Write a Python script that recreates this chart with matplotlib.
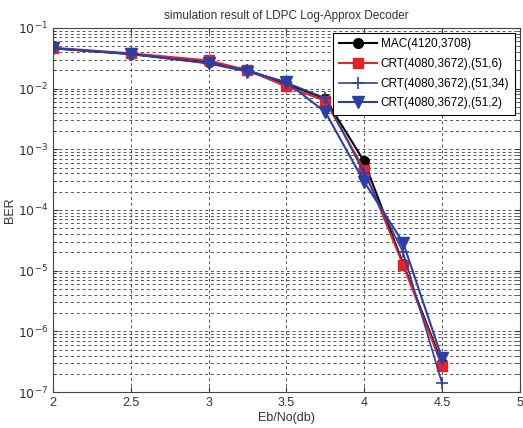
import matplotlib
matplotlib.use("Agg")
import matplotlib.pyplot as plt
import numpy as np
from matplotlib.ticker import FixedLocator, NullFormatter

plt.rcParams['font.family'] = ['Liberation Sans', 'DejaVu Sans']

# Eb/No (dB) points
ebno = [2.0, 2.5, 3.0, 3.25, 3.5, 3.75, 4.0, 4.25, 4.5]

# BER
ber_mac = [0.046, 0.037, 0.027, 0.020, 0.0120, 0.0068, 6.3e-4, 1.3e-5, 3.0e-7]
ber_crt6 = [0.047, 0.038, 0.029, 0.020, 0.0108, 0.0063, 4.6e-4, 1.25e-5, 2.7e-7]
ber_crt34 = [0.046, 0.037, 0.026, 0.020, 0.0125, 0.0070, 4.0e-4, 2.0e-5, 1.4e-7]
ber_crt2 = [0.046, 0.037, 0.026, 0.019, 0.0128, 0.0041, 2.9e-4, 2.9e-5, 3.6e-7]

labels = ["MAC(4120,3708)", "CRT(4080,3672),(51,6)",
          "CRT(4080,3672),(51,34)", "CRT(4080,3672),(51,2)"]

x_ticks = [2, 2.5, 3, 3.5, 4, 4.5, 5]
y_exps = list(range(-7, 0))

blue = "#2b3fa6"
red = "#e3222b"

fig = plt.figure(figsize=(5.23, 4.28), dpi=100)
ax = fig.add_axes([0.101, 0.084, 0.893, 0.851])

ax.semilogy(ebno, ber_mac, color="black", marker="o", markersize=7, linewidth=1.5, label=labels[0])
ax.semilogy(ebno, ber_crt6, color=red, marker="s", markersize=7, linewidth=1.5, label=labels[1])
ax.semilogy(ebno, ber_crt34, color=blue, marker="+", markersize=9, markeredgewidth=1.2, linewidth=1.2, label=labels[2])
ax.semilogy(ebno, ber_crt2, color=blue, marker="v", markersize=8, linewidth=1.5, label=labels[3])

ax.set_xlim(2, 5)
ax.set_ylim(1e-7, 1e-1)
ax.set_xticks(x_ticks)
ax.set_xticklabels([f"{t:g}" for t in x_ticks])

major = [10.0 ** e for e in y_exps]
minor = [m * 10.0 ** e for e in y_exps[:-1] for m in range(2, 10)]
ax.yaxis.set_major_locator(FixedLocator(major))
ax.set_yticklabels([f"$10^{{{e}}}$" for e in y_exps])
ax.yaxis.set_minor_locator(FixedLocator(minor))
ax.yaxis.set_minor_formatter(NullFormatter())

ax.grid(True, which="major", linestyle=(0, (3, 3)), color="#555555", linewidth=0.7)
ax.grid(True, which="minor", axis="y", linestyle=(0, (3, 3)), color="#555555", linewidth=0.7)
ax.tick_params(which="both", direction="in", labelsize=9, colors="#333333", top=True, right=True)
for s in ax.spines.values():
    s.set_color("#444444")

ax.set_title("simulation result of LDPC Log-Approx Decoder", fontsize=8.5, color="#333333", pad=6)
ax.set_xlabel("Eb/No(db)", fontsize=9, color="#333333", labelpad=2)
ax.set_ylabel("BER", fontsize=9, color="#333333")
ax.yaxis.set_label_coords(-0.078, 0.5)

leg = ax.legend(loc="upper right", fontsize=8.5, fancybox=False, framealpha=1,
                edgecolor="black", handlelength=3.2, borderpad=0.5, labelspacing=0.65,
                handletextpad=0.3, borderaxespad=0.4)
leg.get_frame().set_linewidth(0.8)

fig.savefig("out.png", dpi=100)
